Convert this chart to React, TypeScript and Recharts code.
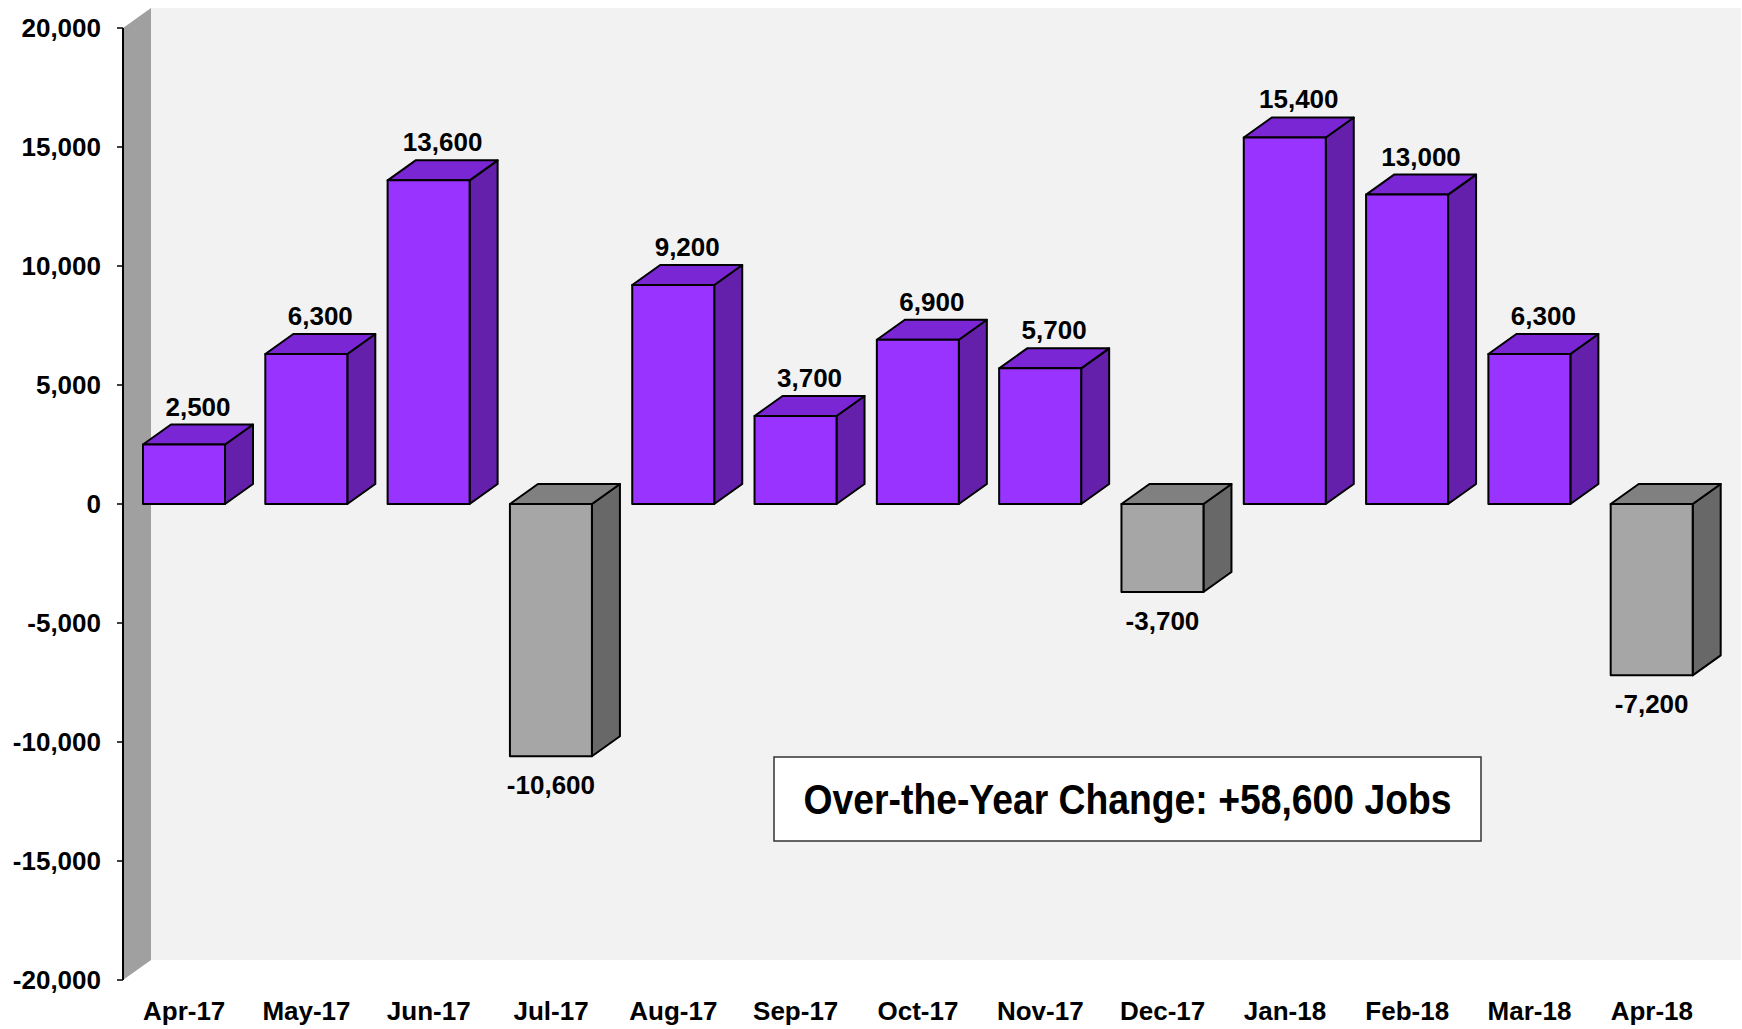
import React from "react";
import {
  BarChart,
  Bar,
  XAxis,
  YAxis,
  ReferenceArea,
  LabelList,
} from "recharts";

const categories = [
  "Apr-17", "May-17", "Jun-17", "Jul-17", "Aug-17", "Sep-17", "Oct-17",
  "Nov-17", "Dec-17", "Jan-18", "Feb-18", "Mar-18", "Apr-18",
];
const jobChange = [
  2500, 6300, 13600, -10600, 9200, 3700, 6900, 5700, -3700, 15400, 13000, 6300, -7200,
];
const yTicks = [-20000, -15000, -10000, -5000, 0, 5000, 10000, 15000, 20000];
const summaryText = "Over-the-Year Change: +58,600 Jobs";

const data = categories.map((month, i) => ({ month, value: jobChange[i] }));

// 3D depth offset
const DX = 28;
const DY = 20;
const FONT = "'Liberation Sans', Arial, sans-serif";

const fmt = (v: number) => v.toLocaleString("en-US");

const Walls = (props: any) => {
  const { x, y, width, height } = props;
  return (
    <g>
      <rect x={x + DX} y={y - DY} width={width} height={height} fill="#f2f2f2" />
      <polygon
        points={`${x},${y} ${x + DX},${y - DY} ${x + DX},${y + height - DY} ${x},${y + height}`}
        fill="#a0a0a0"
      />
    </g>
  );
};

const Box3D = (props: any) => {
  const { x, y, width, height, value } = props;
  const top = Math.min(y, y + height);
  const bottom = Math.max(y, y + height);
  const neg = value < 0;
  const front = neg ? "#a6a6a6" : "#9933ff";
  const topC = neg ? "#808080" : "#7a26d4";
  const side = neg ? "#686868" : "#6420aa";
  const r = x + width;
  return (
    <g stroke="#000" strokeWidth={2} strokeLinejoin="round">
      <polygon
        points={`${r},${top} ${r + DX},${top - DY} ${r + DX},${bottom - DY} ${r},${bottom}`}
        fill={side}
      />
      <polygon
        points={`${x},${top} ${x + DX},${top - DY} ${r + DX},${top - DY} ${r},${top}`}
        fill={topC}
      />
      <rect x={x} y={top} width={width} height={bottom - top} fill={front} />
    </g>
  );
};

const ValueLabel = (props: any) => {
  const { x, y, width, height, value } = props;
  const top = Math.min(y, y + height);
  const bottom = Math.max(y, y + height);
  const cx = x + width / 2;
  if (value < 0) {
    return (
      <text x={cx} y={bottom + 38} textAnchor="middle" fontFamily={FONT}
        fontWeight="bold" fontSize={26} fill="#000">
        {fmt(value)}
      </text>
    );
  }
  return (
    <text x={cx + DX / 2} y={top - DY - 9} textAnchor="middle" fontFamily={FONT}
      fontWeight="bold" fontSize={26} fill="#000">
      {fmt(value)}
    </text>
  );
};

export default function App() {
  return (
    <div style={{ position: "absolute", left: 0, top: 0, width: 1742, height: 1029, background: "#fff" }}>
      <BarChart
        width={1742}
        height={1029}
        data={data}
        margin={{ top: 28, right: 29, bottom: 0, left: 0 }}
      >
        <ReferenceArea y1={-20000} y2={20000} shape={(p: any) => <Walls {...p} />} ifOverflow="visible" />
        <XAxis
          dataKey="month"
          height={49}
          axisLine={false}
          tickLine={false}
          tickMargin={16}
          tick={{ fontFamily: FONT, fontWeight: "bold", fontSize: 26, fill: "#000" }}
          interval={0}
        />
        <YAxis
          width={123}
          domain={[-20000, 20000]}
          ticks={yTicks}
          tickFormatter={fmt}
          axisLine={{ stroke: "#000", strokeWidth: 2 }}
          tickLine={{ stroke: "#000", strokeWidth: 1.5 }}
          tickSize={6}
          tickMargin={16}
          tick={{ fontFamily: FONT, fontWeight: "bold", fontSize: 26, fill: "#000" }}
        />
        <Bar dataKey="value" barSize={82} shape={(p: any) => <Box3D {...p} />} isAnimationActive={false}>
          <LabelList dataKey="value" content={(p: any) => <ValueLabel {...p} />} />
        </Bar>
      </BarChart>
      <svg style={{ position: "absolute", left: 0, top: 0 }} width={1742} height={1029}>
        <rect x={774} y={757} width={707} height={84} fill="#fff" stroke="#333" strokeWidth={1.5} />
        <text x={1127.5} y={814} textAnchor="middle" fontFamily="'Liberation Sans Narrow', 'Liberation Sans', Arial, sans-serif"
          fontWeight="bold" fontSize={42} textLength={648} lengthAdjust="spacingAndGlyphs" fill="#000">
          {summaryText}
        </text>
      </svg>
    </div>
  );
}
